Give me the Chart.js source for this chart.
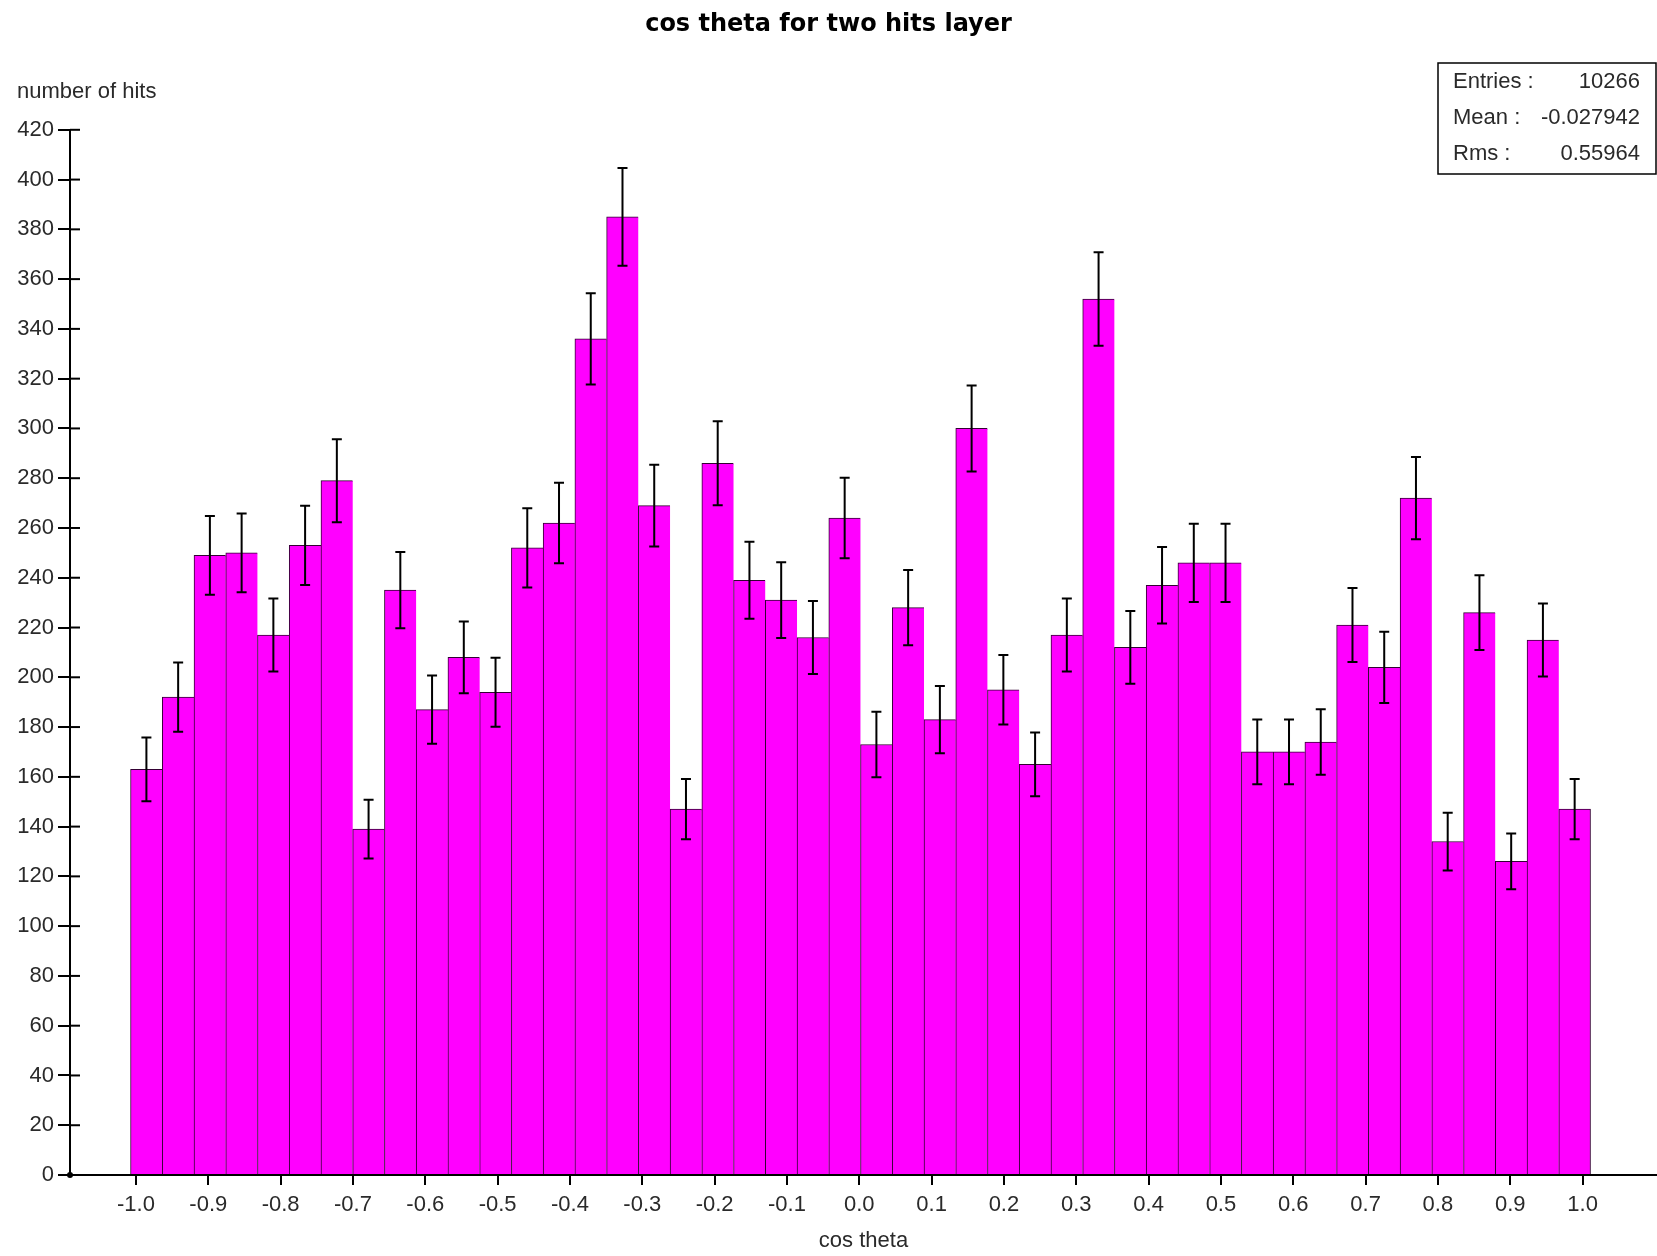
<!DOCTYPE html>
<html lang="en">
<head>
    <meta charset="UTF-8">
    <title>cos theta for two hits layer</title>
    <script src="https://cdn.jsdelivr.net/npm/chart.js"></script>
    <style>
        body { margin: 0; background: #fff; }
        #wrap { width: 1657px; height: 1256px; }
    </style>
</head>
<body>
<div id="wrap"><canvas id="histo" width="1657" height="1256"></canvas></div>
<script>
    // histogram contents, 46 bins
    const binLow = -1.0075;
    const binHigh = 1.011;
    const counts = [163, 192, 249, 250, 217, 253, 279, 139, 235, 187, 208, 194, 252, 262, 336, 385,
        269, 147, 286, 239, 231, 216, 264, 173, 228, 183, 300, 195, 165, 217, 352, 212,
        237, 246, 246, 170, 170, 174, 221, 204, 272, 134, 226, 126, 215, 147];
    // statistical errors (about sqrt of the counts)
    const errors = [12.8, 13.9, 15.8, 15.8, 14.7, 15.9, 16.7, 11.8, 15.3, 13.7, 14.4, 13.9, 15.9, 16.2, 18.3, 19.6,
        16.4, 12.1, 16.9, 15.5, 15.2, 14.7, 16.2, 13.2, 15.1, 13.5, 17.3, 14.0, 12.8, 14.7, 18.8, 14.6,
        15.4, 15.7, 15.7, 13.0, 13.0, 13.2, 14.9, 14.3, 16.5, 11.6, 15.0, 11.2, 14.7, 12.1];
    const xTickValues = [-1.0, -0.9, -0.8, -0.7, -0.6, -0.5, -0.4, -0.3, -0.2, -0.1, 0.0,
        0.1, 0.2, 0.3, 0.4, 0.5, 0.6, 0.7, 0.8, 0.9, 1.0];
    const statLabels = ['Entries :', 'Mean :', 'Rms :'];
    const statValues = ['10266', '-0.027942', '0.55964'];

    const binWidth = (binHigh - binLow) / counts.length;
    const points = counts.map((c, i) => ({ x: binLow + (i + 0.5) * binWidth, y: c }));

    const font = 'Liberation Sans, Arial, sans-serif';
    const textColor = '#2a2a2a';

    const extras = {
        id: 'extras',
        afterDatasetsDraw(chart) {
            const ctx = chart.ctx;
            const xs = chart.scales.x, ys = chart.scales.y;
            ctx.save();
            // error bars
            ctx.strokeStyle = '#000';
            ctx.lineWidth = 2;
            points.forEach((p, i) => {
                const px = xs.getPixelForValue(p.x);
                const top = ys.getPixelForValue(p.y + errors[i]);
                const bot = ys.getPixelForValue(p.y - errors[i]);
                ctx.beginPath();
                ctx.moveTo(px, top); ctx.lineTo(px, bot);
                ctx.moveTo(px - 5, top); ctx.lineTo(px + 5, top);
                ctx.moveTo(px - 5, bot); ctx.lineTo(px + 5, bot);
                ctx.stroke();
            });
            ctx.restore();
        },
        afterDraw(chart) {
            const ctx = chart.ctx;
            const ys = chart.scales.y;
            const left = chart.chartArea.left, bottom = chart.chartArea.bottom;
            ctx.save();
            // inner stubs of the y ticks
            ctx.strokeStyle = '#000';
            ctx.lineWidth = 2;
            ys.ticks.forEach(t => {
                const py = ys.getPixelForValue(t.value);
                ctx.beginPath();
                ctx.moveTo(left, py); ctx.lineTo(left + 10, py);
                ctx.stroke();
            });
            // origin dot
            ctx.fillStyle = '#000';
            ctx.beginPath();
            ctx.arc(left, bottom, 3, 0, Math.PI * 2);
            ctx.fill();
            // y axis title
            ctx.fillStyle = textColor;
            ctx.font = '22px ' + font;
            ctx.textBaseline = 'middle';
            ctx.textAlign = 'left';
            ctx.fillText('number of hits', 17, 92);
            // stats box
            ctx.strokeStyle = '#000';
            ctx.lineWidth = 1.5;
            ctx.strokeRect(1438, 63, 218, 111);
            statLabels.forEach((lab, i) => {
                const y = 82 + i * 36;
                ctx.textAlign = 'left';
                ctx.fillText(lab, 1453, y);
                ctx.textAlign = 'right';
                ctx.fillText(statValues[i], 1640, y);
            });
            ctx.restore();
        }
    };

    const ctx = document.getElementById('histo').getContext('2d');
    new Chart(ctx, {
        type: 'bar',
        data: {
            datasets: [{
                data: points,
                backgroundColor: '#ff00ff',
                borderColor: '#330033',
                borderWidth: c => ({ top: 1, left: 1, bottom: 0, right: c.dataIndex === counts.length - 1 ? 1 : 0 }),
                borderSkipped: false,
                barPercentage: 1,
                categoryPercentage: 1
            }]
        },
        options: {
            responsive: false,
            animation: false,
            layout: { padding: 0 },
            plugins: {
                legend: { display: false },
                tooltip: { enabled: false },
                title: {
                    display: true,
                    text: 'cos theta for two hits layer',
                    color: '#000',
                    font: { family: 'DejaVu Sans', size: 24, weight: 'bold' },
                    padding: { top: 10, bottom: 91 }
                }
            },
            scales: {
                x: {
                    type: 'linear',
                    offset: false,
                    min: -1.0912,
                    max: 1.1029,
                    afterBuildTicks(scale) {
                        scale.ticks = xTickValues.map(v => ({ value: v }));
                    },
                    afterFit(scale) { scale.height = 81; },
                    ticks: {
                        color: textColor,
                        font: { family: font, size: 22 },
                        padding: 7,
                        maxRotation: 0,
                        autoSkip: false,
                        callback: v => v.toFixed(1)
                    },
                    grid: { offset: false, drawOnChartArea: false, drawTicks: true, tickLength: 10, color: '#000', lineWidth: 2 },
                    border: { display: true, color: '#000', width: 2 },
                    title: {
                        display: true,
                        text: 'cos theta',
                        color: textColor,
                        font: { family: font, size: 22 },
                        padding: { top: 0, bottom: 2 }
                    }
                },
                y: {
                    min: 0,
                    max: 420,
                    afterFit(scale) { scale.width = 70; },
                    ticks: {
                        stepSize: 20,
                        color: textColor,
                        font: { family: font, size: 22 },
                        padding: 4
                    },
                    grid: { drawOnChartArea: false, drawTicks: true, tickLength: 12, color: '#000', lineWidth: 2 },
                    border: { display: true, color: '#000', width: 2 }
                }
            }
        },
        plugins: [extras]
    });
</script>
</body>
</html>
